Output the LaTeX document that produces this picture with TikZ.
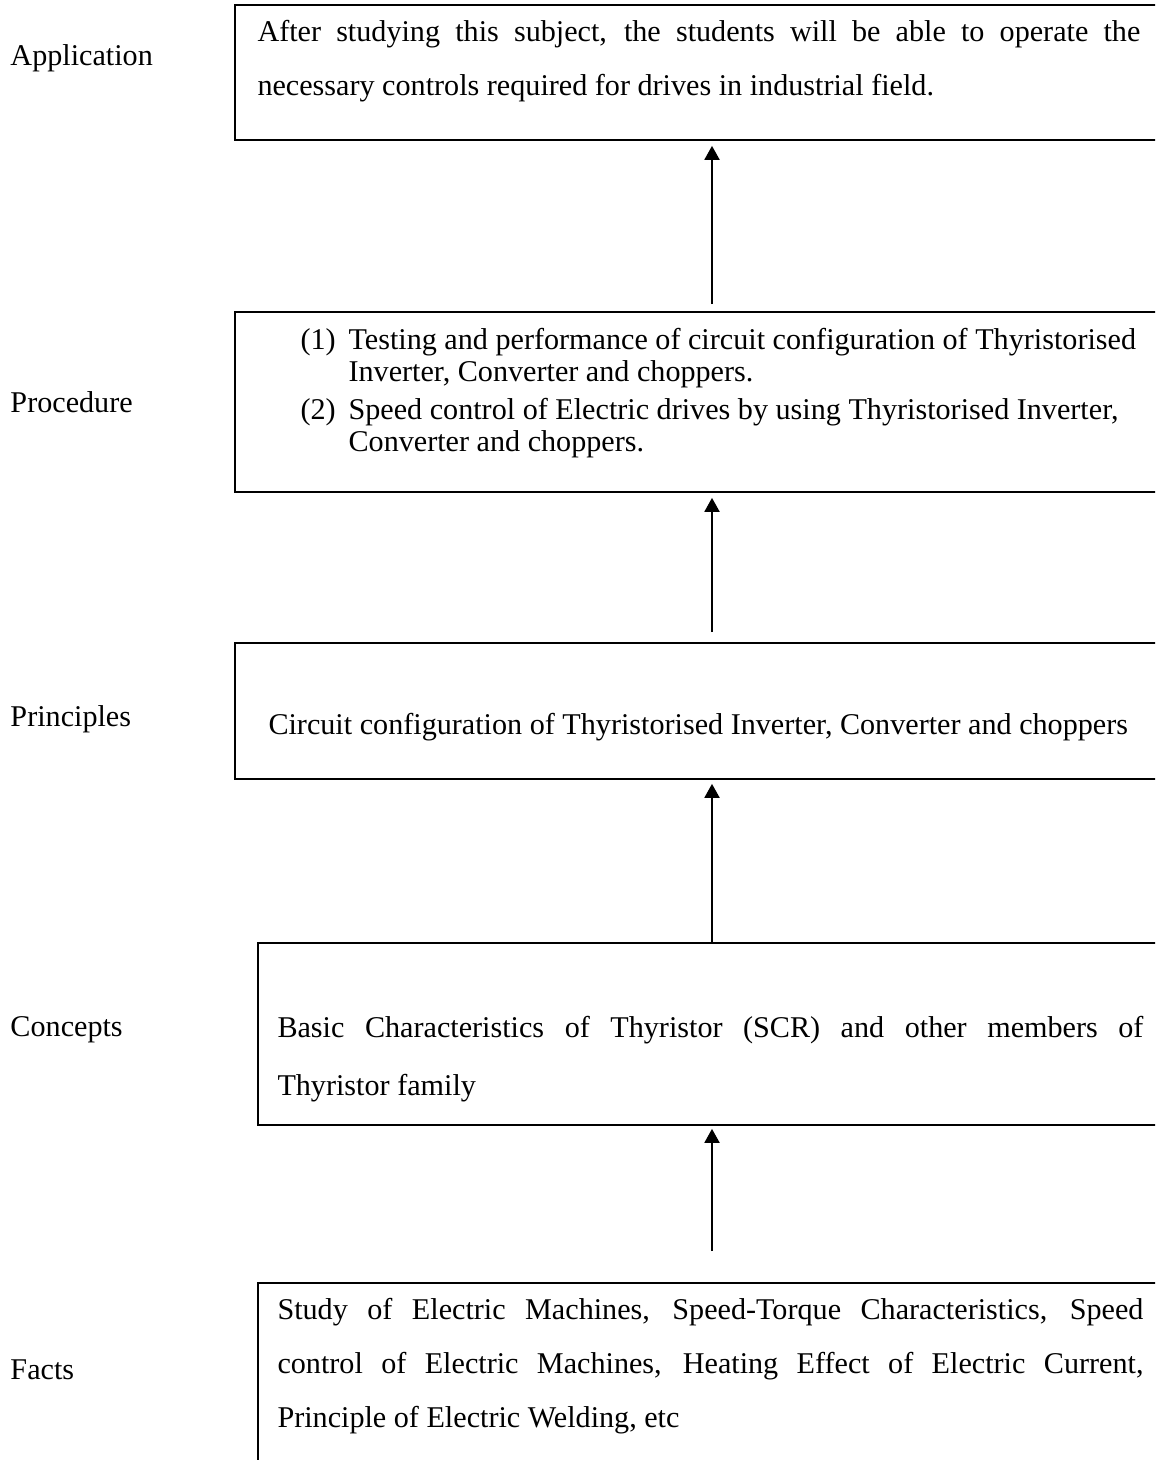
\documentclass[tikz,border=0pt]{standalone}
\usepackage{fontspec}
\setmainfont{Liberation Serif}
\usetikzlibrary{arrows.meta,fit}
\tikzset{
  box/.style={draw,line width=0.7pt,inner sep=0pt},
  txt/.style={inner sep=0pt,anchor=base west,font=\fontsize{12.1}{21.8}\selectfont},
  arr/.style={-{Triangle[width=6pt,length=5.6pt]},line width=0.8pt}
}
\begin{document}
\begin{tikzpicture}[x=0.4013pt,y=-0.4013pt]
\useasboundingbox (0,0) rectangle (1155,1460);
\clip (0,0) rectangle (1155,1460);
\node[box,fit={(235,5) (1189,140)}] (app) {};
\node[box,fit={(235,312) (1189,492)}] (proc) {};
\node[box,fit={(235,643) (1189,779)}] (prin) {};
\node[box,fit={(258,943) (1166,1125)}] (conc) {};
\node[box,fit={(258,1283) (1166,1480)}] (fact) {};
\node[txt] (lapp) at (10,65) {Application};
\node[txt] (lproc) at (10,412) {Procedure};
\node[txt] (lprin) at (10,726) {Principles};
\node[txt] (lconc) at (10,1036) {Concepts};
\node[txt] (lfact) at (10,1379) {Facts};
\node[txt] (tapp) at (257,41) {\parbox[t]{354.3pt}{\makebox[\linewidth][s]{After studying this subject, the students will be able to operate the}\\necessary controls required for drives in industrial field.}};
\node[txt,font=\fontsize{12.1}{12.84}\selectfont] (tproc) at (300,349) {\begin{tabular}[t]{@{}p{19.3pt}@{}l@{}}
(1) & Testing and performance of circuit configuration of Thyristorised\\
 & Inverter, Converter and choppers.\\[2.8pt]
(2) & Speed control of Electric drives by using Thyristorised Inverter,\\
 & Converter and choppers.
\end{tabular}};
\node[txt] (tprin) at (268,734) {Circuit configuration of Thyristorised Inverter, Converter and choppers};
\node[txt,font=\fontsize{12.1}{23.3}\selectfont] (tconc) at (277,1037) {\parbox[t]{347.5pt}{\makebox[\linewidth][s]{Basic Characteristics of Thyristor (SCR) and other members of}\\Thyristor family}};
\node[txt] (tfact) at (277,1319) {\parbox[t]{347.5pt}{\makebox[\linewidth][s]{Study of Electric Machines, Speed-Torque Characteristics, Speed}\\\makebox[\linewidth][s]{control of Electric Machines, Heating Effect of Electric Current,}\\Principle of Electric Welding, etc}};
\draw[arr,shorten <=2.8pt,shorten >=2pt] (proc.north) -- (app.south);
\draw[arr,shorten <=4pt,shorten >=2pt] (prin.north) -- (proc.south);
\draw[arr,shorten >=1.6pt] (conc.north) -- (prin.south);
\draw[arr,shorten <=12.4pt,shorten >=1.2pt] (fact.north) -- (conc.south);
\end{tikzpicture}
\end{document}
